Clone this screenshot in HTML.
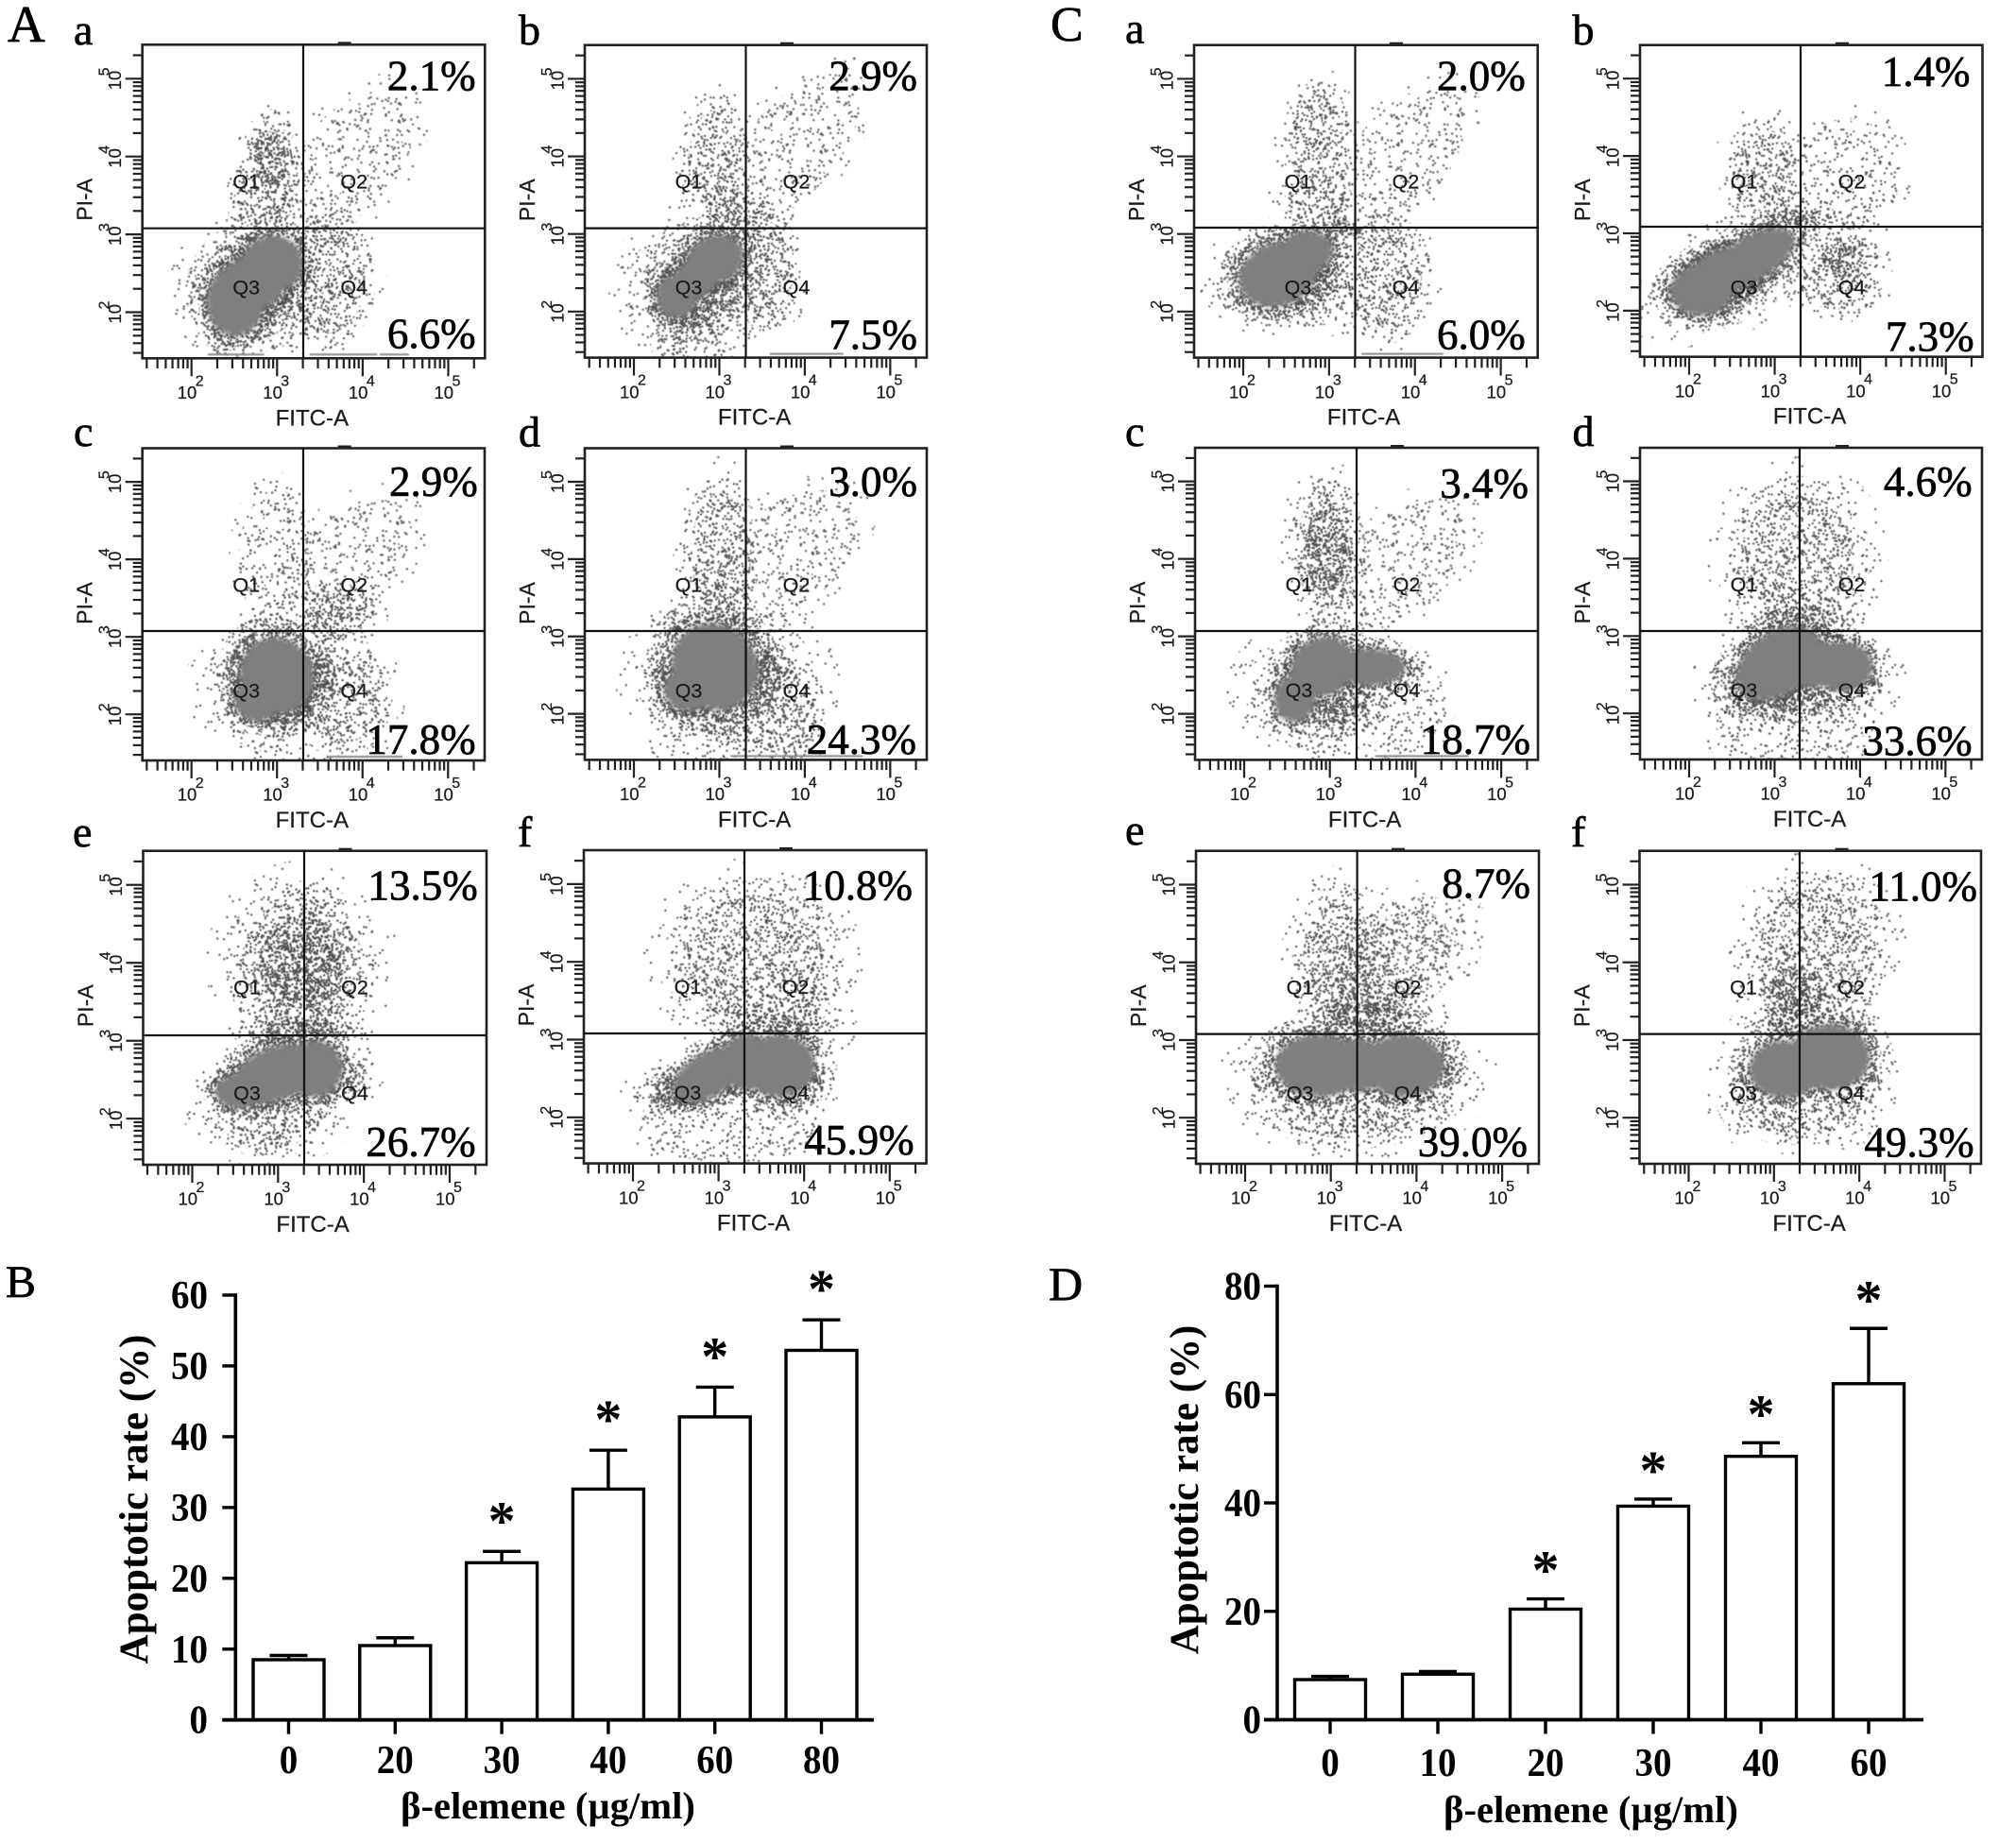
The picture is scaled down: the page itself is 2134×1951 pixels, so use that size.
<!DOCTYPE html>
<html lang="en">
<head>
<meta charset="utf-8">
<title>Flow cytometry apoptosis panels and bar charts</title>
<style>
html,body{margin:0;padding:0;background:#fff;}
#figure{position:absolute;left:0;top:0;display:block;}
.sans{font-family:"Liberation Sans",sans-serif;fill:#1c1c1c;stroke:#1c1c1c;stroke-width:.25px;}
.serif{font-family:"Liberation Serif",serif;fill:#000;}
.heavy{stroke:#000;stroke-width:.7px;}
.bold{font-weight:bold;}
.blur{filter:blur(0.45px);}
.soft{filter:blur(3px);}
</style>
</head>
<body>
<svg id="figure" xmlns="http://www.w3.org/2000/svg" width="2134" height="1951" viewBox="0 0 2134 1951">
  <rect width="2134" height="1951" fill="#fff"/>
  <defs id="defs"></defs>
  <g id="panels"></g>
  <g id="chartB"></g>
  <g id="chartD"></g>
  <g>
    <text class="serif heavy" x="8" y="44" font-size="55">A</text>
    <text class="serif heavy" x="1112" y="43" font-size="52">C</text>
    <text class="serif heavy" x="6" y="1373" font-size="48">B</text>
    <text class="serif heavy" x="1110" y="1376" font-size="50">D</text>
  </g>
</svg>
<script>
/* ---------- scatter-panel values: log10(FITC), log10(PI) ---------- */
const panelIds = ['A-a','A-b','A-c','A-d','A-e','A-f','C-a','C-b','C-c','C-d','C-e','C-f'];
const panelLetters = ['a','b','c','d','e','f','a','b','c','d','e','f'];
const q2Percent = ['2.1%','2.9%','2.9%','3.0%','13.5%','10.8%','2.0%','1.4%','3.4%','4.6%','8.7%','11.0%'];
const q4Percent = ['6.6%','7.5%','17.8%','24.3%','26.7%','45.9%','6.0%','7.3%','18.7%','33.6%','39.0%','49.3%'];
const xDecades = [2,3,4,5];
const yDecades = [2,3,4,5];
const quadrantNames = ['Q1','Q2','Q3','Q4'];

/* dense populations: [log FITC, log PI, spread FITC, spread PI, tilt] */
const cores_Aa = [[2.51,2.14,.33,.45,0],[2.95,2.62,.36,.36,0],[2.72,2.38,.36,.36,0]];
const cores_Ab = [[2.50,2.19,.24,.27,0],[2.95,2.67,.34,.30,20],[2.72,2.42,.26,.25,30]];
const cores_Ac = [[3.00,2.50,.42,.50,35],[2.77,2.19,.27,.28,0]];
const cores_Ad = [[2.95,2.61,.48,.58,45],[2.65,2.31,.30,.27,0]];
const cores_Ae = [[2.98,2.58,.52,.34,20],[3.43,2.64,.32,.36,0],[2.55,2.35,.28,.22,0]];
const cores_Af = [[2.89,2.55,.47,.28,30],[3.71,2.66,.42,.40,0],[3.34,2.71,.32,.36,0]];
const cores_Ca = [[2.41,2.48,.47,.40,20],[2.75,2.78,.30,.26,0]];
const cores_Cb = [[2.14,2.26,.36,.32,0],[2.74,2.68,.55,.28,30],[2.36,2.47,.42,.30,30]];
const cores_Cc = [[2.92,2.61,.38,.37,30],[2.59,2.19,.24,.30,0],[3.48,2.60,.40,.24,0]];
const cores_Cd = [[3.05,2.65,.55,.40,35],[3.80,2.60,.35,.32,0],[3.42,2.65,.32,.32,0]];
const cores_Ce = [[2.87,2.67,.52,.40,0],[3.85,2.67,.47,.40,0],[3.32,2.67,.32,.34,0]];
const cores_Cf = [[3.13,2.62,.42,.37,0],[3.65,2.78,.47,.42,0]];

/* scattered populations: [log FITC, log PI, spread FITC, spread PI, tilt, density level] */
const clouds_Aa = [[2.74,2.33,.82,.85,30,3],[2.92,3.96,.33,.65,0,3],[2.85,3.48,.45,.55,0,2],[3.85,3.95,.95,.62,50,1],[3.60,2.43,.55,.90,0,2]];
const clouds_Ab = [[2.75,2.30,.85,.90,40,3],[2.95,3.90,.40,.90,0,2],[3.85,4.10,1.05,.58,50,1],[3.55,2.54,.40,.80,0,2],[3.25,3.17,.45,.45,0,2],[2.50,1.64,.25,.30,0,1]];
const clouds_Ac = [[3.00,2.40,.85,.90,0,3],[3.53,2.50,.30,.40,0,3],[3.75,2.24,.60,.80,0,2],[3.00,4.00,.45,.90,0,1],[3.83,3.95,.90,.62,45,1],[3.68,3.30,.50,.40,0,2]];
const clouds_Ad = [[3.10,2.40,1.05,1.00,0,2],[3.55,2.49,.30,.55,0,3],[3.70,2.02,.55,.70,0,2],[3.02,4.08,.45,1.00,0,2],[3.80,4.05,.95,.65,40,1]];
const clouds_Ae = [[2.68,2.37,.55,.35,0,3],[3.73,2.53,.40,.40,0,3],[2.90,2.06,.80,.55,0,2],[3.28,4.00,.90,1.05,0,3],[3.35,4.16,.45,.90,0,3],[3.28,3.11,.80,.40,0,3]];
const clouds_Af = [[2.59,2.34,.60,.35,0,3],[3.86,2.39,.45,.35,0,3],[3.11,1.92,1.05,.50,0,1],[3.41,4.03,1.05,1.05,0,2],[3.75,3.50,.70,.60,0,2],[3.64,3.13,.80,.35,0,3]];
const clouds_Ca = [[2.60,2.43,.90,.65,0,3],[3.65,2.43,.55,.85,0,2],[3.13,3.06,.45,.20,0,3],[2.86,4.17,.40,.80,0,2],[2.83,3.43,.45,.35,0,2],[3.85,4.00,.95,.60,50,1]];
const clouds_Cb = [[2.44,2.42,1.00,.60,25,3],[3.79,2.68,.45,.35,0,3],[3.71,2.37,.55,.45,0,2],[2.89,3.79,.50,.70,0,2],[3.86,3.74,.60,.75,0,1],[3.26,3.21,.70,.20,0,2]];
const clouds_Cc = [[3.64,2.56,.40,.25,0,3],[2.96,2.29,.95,.80,0,3],[3.79,2.14,.55,.70,0,1],[2.96,4.10,.45,.95,0,3],[3.86,3.95,.90,.62,45,1]];
const clouds_Cd = [[2.82,2.31,.40,.30,0,3],[3.27,2.39,1.05,.70,0,3],[3.20,1.92,.90,.60,0,1],[3.27,4.02,.85,1.05,0,2],[3.27,3.30,.70,.40,0,2]];
const clouds_Ce = [[3.32,2.62,1.30,.55,0,3],[3.25,2.20,1.20,.60,0,2],[3.70,4.00,1.00,.70,35,2],[3.10,4.00,.55,1.00,0,2],[3.40,3.30,.80,.35,0,3]];
const clouds_Cf = [[3.35,2.62,.90,.60,0,3],[3.28,2.15,.95,.50,0,2],[3.50,4.15,.85,1.05,0,2],[3.28,3.62,.60,.60,0,3],[3.35,3.20,.70,.35,0,3]];

/* events piled on the lower axis: [from log FITC, to log FITC] */
const edge_Aa = [[2.19,2.85],[3.38,4.17],[4.20,4.54]];
const edge_Ab = [[3.59,4.45]];
const edge_Ac = [[3.60,4.47]];
const edge_Ad = [[3.13,4.68]];
const edge_Ae = [];
const edge_Af = [];
const edge_Ca = [[3.38,4.33]];
const edge_Cb = [];
const edge_Cc = [[3.53,4.62]];
const edge_Cd = [];
const edge_Ce = [];
const edge_Cf = [];

const allCores = [cores_Aa,cores_Ab,cores_Ac,cores_Ad,cores_Ae,cores_Af,cores_Ca,cores_Cb,cores_Cc,cores_Cd,cores_Ce,cores_Cf];
const allClouds = [clouds_Aa,clouds_Ab,clouds_Ac,clouds_Ad,clouds_Ae,clouds_Af,clouds_Ca,clouds_Cb,clouds_Cc,clouds_Cd,clouds_Ce,clouds_Cf];
const allEdges = [edge_Aa,edge_Ab,edge_Ac,edge_Ad,edge_Ae,edge_Af,edge_Ca,edge_Cb,edge_Cc,edge_Cd,edge_Ce,edge_Cf];

/* ---------- bar-chart values ---------- */
const categoriesB = ['0','20','30','40','60','80'];
const valuesB = [8.5,10.5,22.2,32.6,42.8,52.2];
const errorTopsB = [9.1,11.6,23.8,38.1,47.0,56.5];
const significantB = [false,false,true,true,true,true];
const yTickLabelsB = [0,10,20,30,40,50,60];

const categoriesD = ['0','10','20','30','40','60'];
const valuesD = [7.4,8.4,20.4,39.4,48.6,62.0];
const errorTopsD = [8.0,8.9,22.3,40.7,51.1,72.2];
const significantD = [false,false,true,true,true,true];
const yTickLabelsD = [0,20,40,60,80];

/* ---------- layout (page geometry, not data) ---------- */
const frames = [
 {L:150.7,R:513.3,T:47.3,B:379.3,v:321,h:241.7,q2:[503.6,95.4],q4:[503.6,368.6],let:[78,47]},
 {L:619,R:981,T:47.7,B:378.6,v:789.5,h:241.6,q2:[971,95.4],q4:[971,369.5],let:[549,47]},
 {L:150.7,R:513,T:474.5,B:805,v:321,h:668,q2:[505.7,525],q4:[503.6,798],let:[78,472]},
 {L:619,R:981,T:474.5,B:804.4,v:789.5,h:668,q2:[971,525],q4:[970,798],let:[549,472.7]},
 {L:151.5,R:515,T:900.7,B:1233,v:322,h:1096,q2:[505.7,952.7],q4:[503.6,1224],let:[77,896]},
 {L:618,R:980.6,T:900,B:1231.6,v:788,h:1094,q2:[966,952.7],q4:[967.6,1222],let:[548,896]},
 {L:1264,R:1627.7,T:47.7,B:378.6,v:1434.5,h:241,q2:[1614.7,95.4],q4:[1614.7,369.5],let:[1191,45.5]},
 {L:1736,R:2098.5,T:47.7,B:377.7,v:1906,h:240,q2:[2085.5,91],q4:[2089.6,371.7],let:[1664.5,47]},
 {L:1265,R:1628,T:474,B:804.4,v:1436,h:668,q2:[1618,527],q4:[1620,798],let:[1191,472]},
 {L:1736,R:2098,T:474,B:804,v:1905,h:668,q2:[2087.6,525],q4:[2087.6,799.6],let:[1664.5,472]},
 {L:1266,R:1629,T:900.7,B:1232,v:1436.6,h:1094.6,q2:[1620,950.6],q4:[1617,1224],let:[1191,894]},
 {L:1735.5,R:2097,T:900.7,B:1232,v:1905,h:1094.6,q2:[2093,953.6],q4:[2089.6,1224.7],let:[1663,896]}
];
const NS = 'http://www.w3.org/2000/svg';
function mk(parent, tag, attrs){
  const e = document.createElementNS(NS, tag);
  for (const k in attrs) e.setAttribute(k, attrs[k]);
  parent.appendChild(e);
  return e;
}
function frac(v){ return v - Math.floor(v); }

/* stipple textures: fixed speckle tiles, four densities */
const defs = document.getElementById('defs');
const tileCounts = [120,380,750,1700];
tileCounts.forEach(function(count, lvl){
  const pat = mk(defs,'pattern',{id:'stipple'+lvl,width:140,height:140,patternUnits:'userSpaceOnUse'});
  
  
  let d = '';
  for (let i=0;i<count;i++){
    const x = (frac(Math.sin((i+1)*12.9898+lvl*3.1)*43758.5453)*140).toFixed(1);
    const y = (frac(Math.sin((i+1)*78.233+lvl*7.7)*24634.6345)*140).toFixed(1);
    d += 'M'+x+' '+y+'h.01';
  }
  const speck = mk(pat,'path',{d:d,stroke:'#4d4d4d',fill:'none','stroke-width':2.3,'stroke-linecap':'round'});
  
  
});

/* ---------- scatter panels ---------- */
const panelsRoot = document.getElementById('panels');
panelIds.forEach(function(id, idx){
  const p = frames[idx];
  const sx = 90.6*(p.R-p.L)/362.6, sy = 82.4*(p.B-p.T)/332;
  const xOf = function(lg){ return p.L + 52 + (lg-2)*sx; };
  const yOf = function(lg){ return p.B - 48.8 - (lg-2)*sy; };

  const g = mk(panelsRoot,'g',{});
  
  

  const letter = mk(g,'text',{class:'serif heavy',x:p.let[0],y:p.let[1],'font-size':46});
  letter.textContent = panelLetters[idx];
  
  

  const clip = mk(defs,'clipPath',{id:'clip'+idx});
  
  
  mk(clip,'rect',{x:p.L,y:p.T,width:p.R-p.L,height:p.B-p.T});

  const cloudLayer = mk(g,'g',{'clip-path':'url(#clip'+idx+')',class:'blur'});
  
  

  allClouds[idx].forEach(function(c){
    const cx = xOf(c[0]), cy = yOf(c[1]);
    const fringe = mk(cloudLayer,'ellipse',{cx:cx,cy:cy,rx:c[2]*sx*1.25,ry:c[3]*sy*1.25,fill:'url(#stipple0)',transform:'rotate('+(-c[4])+' '+cx+' '+cy+')'});
    
    
    for (let k=1;k<=c[5];k++){
      const s = 1 - (k-1)*0.22;
      const el = mk(cloudLayer,'ellipse',{cx:cx,cy:cy,rx:c[2]*sx*s,ry:c[3]*sy*s,fill:'url(#stipple'+k+')',transform:'rotate('+(-c[4])+' '+cx+' '+cy+')'});
      
      
    }
  });
  allCores[idx].forEach(function(c){
    const cx = xOf(c[0]), cy = yOf(c[1]);
    const halo2 = mk(cloudLayer,'ellipse',{cx:cx,cy:cy,rx:c[2]*sx*1.6,ry:c[3]*sy*1.6,fill:'url(#stipple2)',transform:'rotate('+(-c[4])+' '+cx+' '+cy+')'});
    
    
    const halo = mk(cloudLayer,'ellipse',{cx:cx,cy:cy,rx:c[2]*sx*1.3,ry:c[3]*sy*1.3,fill:'url(#stipple3)',transform:'rotate('+(-c[4])+' '+cx+' '+cy+')'});
    
    
  });
  const coreLayer = mk(cloudLayer,'g',{class:'soft'});
  
  
  allCores[idx].forEach(function(c){
    const cx = xOf(c[0]), cy = yOf(c[1]);
    const core = mk(coreLayer,'ellipse',{cx:cx,cy:cy,rx:c[2]*sx,ry:c[3]*sy,fill:'#7f7f7f',transform:'rotate('+(-c[4])+' '+cx+' '+cy+')'});
    
    
  });
  allEdges[idx].forEach(function(r){
    const run = mk(cloudLayer,'line',{x1:xOf(r[0]),x2:xOf(r[1]),y1:p.B-4,y2:p.B-4,stroke:'#888','stroke-width':2});
    
    
  });

  /* frame */
  const frame = mk(g,'rect',{x:p.L,y:p.T,width:p.R-p.L,height:p.B-p.T,fill:'none',stroke:'#222','stroke-width':2.6});
  
  
  const topMark = mk(g,'rect',{x:p.L+207,y:p.T-3,width:14,height:3,fill:'#222'});
  
  

  /* quadrant gates */
  const vGate = mk(g,'line',{x1:p.v,x2:p.v,y1:p.T,y2:p.B,stroke:'#111','stroke-width':2.2});
  
  
  const hGate = mk(g,'line',{x1:p.L,x2:p.R,y1:p.h,y2:p.h,stroke:'#111','stroke-width':2.2});
  
  

  /* log ticks */
  const xAxis = mk(g,'g',{stroke:'#222','stroke-width':2.2});
  
  
  const yAxis = mk(g,'g',{stroke:'#222','stroke-width':2.2});
  
  
  [1,2,3,4,5].forEach(function(dec){
    [1,2,3,4,5,6,7,8,9].forEach(function(m){
      const lg = dec + Math.log10(m);
      if (lg < 1.47 || lg > 5.31) return;
      const major = m === 1;
      const tx = mk(xAxis,'line',{x1:xOf(lg),x2:xOf(lg),y1:p.B,y2:p.B+(major?19:10.7)});
      
      
      const ty = mk(yAxis,'line',{y1:yOf(lg),y2:yOf(lg),x1:p.L,x2:p.L-(major?18:10)});
      
      
    });
  });
  xDecades.forEach(function(d){
    const base = mk(g,'text',{class:'sans',x:xOf(d)-15,y:p.B+42.7,'font-size':18.5});
    base.textContent = '10';
    
    
    const sup = mk(g,'text',{class:'sans',x:xOf(d)+4,y:p.B+29,'font-size':16});
    sup.textContent = String(d);
    
    
  });
  yDecades.forEach(function(d){
    const yy = yOf(d);
    const bx = p.L-22.7, by = yy+12;
    const base = mk(g,'text',{class:'sans',x:bx,y:by,'font-size':18.5,transform:'rotate(-90 '+bx+' '+by+')'});
    base.textContent = '10';
    
    
    const ex = p.L-35, ey = yy-3;
    const sup = mk(g,'text',{class:'sans',x:ex,y:ey,'font-size':16,transform:'rotate(-90 '+ex+' '+ey+')'});
    sup.textContent = String(d);
    
    
  });

  /* axis titles */
  const xt = mk(g,'text',{class:'sans',x:p.L+179.6,y:p.B+71,'font-size':24,'text-anchor':'middle'});
  xt.textContent = 'FITC-A';
  
  
  const yx = p.L-53, yy = p.T+164;
  const yt = mk(g,'text',{class:'sans',x:yx,y:yy,'font-size':23,'text-anchor':'middle',transform:'rotate(-90 '+yx+' '+yy+')'});
  yt.textContent = 'PI-A';
  
  

  /* quadrant names */
  quadrantNames.forEach(function(q,i){
    const qx = p.L + (i%2===0 ? 110 : 224);
    const qy = p.T + (i<2 ? 152 : 264);
    const ql = mk(g,'text',{class:'sans',x:qx,y:qy,'font-size':21.5,'text-anchor':'middle'});
    ql.textContent = q;
    
    
  });

  /* percentages */
  const up = mk(g,'text',{class:'serif heavy',x:p.q2[0],y:p.q2[1],'font-size':45,'text-anchor':'end'});
  up.textContent = q2Percent[idx];
  
  
  const low = mk(g,'text',{class:'serif heavy',x:p.q4[0],y:p.q4[1],'font-size':45,'text-anchor':'end'});
  low.textContent = q4Percent[idx];
  
  
});

/* ---------- bar charts ---------- */
function barChart(rootId, cfg, categories, values, errorTops, significant, yTicks){
  const root = document.getElementById(rootId);
  const yOf = function(v){ return cfg.y0 - v*cfg.perUnit; };
  const xOf = function(i){ return cfg.x0 + i*cfg.step; };

  categories.forEach(function(cat,i){
    const top = yOf(values[i]), errY = yOf(errorTops[i]), cx = xOf(i);
    const whisker = mk(root,'line',{x1:cx,x2:cx,y1:top,y2:errY,stroke:'#000','stroke-width':3.4});
    
    
    const cap = mk(root,'line',{x1:cx-20,x2:cx+20,y1:errY,y2:errY,stroke:'#000','stroke-width':3.4});
    
    
    const bar = mk(root,'rect',{x:cx-37.5,y:top,width:75,height:cfg.y0-top,fill:'#fff',stroke:'#000','stroke-width':3.4});
    
    
    if (significant[i]){
      const star = mk(root,'text',{class:'serif bold',x:cx,y:errY-cfg.starGap,'font-size':58,'text-anchor':'middle'});
      star.textContent = '*';
      
      
    }
    const tick = mk(root,'line',{x1:cx,x2:cx,y1:cfg.y0,y2:cfg.y0+15,stroke:'#000','stroke-width':3.4});
    
    
    const lab = mk(root,'text',{class:'serif bold',x:cx,y:cfg.xLabelY,'font-size':42,'text-anchor':'middle',textLength:cat.length*19.5,lengthAdjust:'spacingAndGlyphs'});
    lab.textContent = cat;
    
    
  });

  const yAxis = mk(root,'line',{x1:cfg.axisX,x2:cfg.axisX,y1:yOf(yTicks[yTicks.length-1])-1.7,y2:cfg.y0+1.7,stroke:'#000','stroke-width':3.6});
  
  
  const xAxis = mk(root,'line',{x1:cfg.axisX-14,x2:cfg.axisEnd,y1:cfg.y0,y2:cfg.y0,stroke:'#000','stroke-width':3.8});
  
  

  yTicks.forEach(function(t){
    const ty = yOf(t);
    const tick = mk(root,'line',{x1:cfg.axisX-14,x2:cfg.axisX,y1:ty,y2:ty,stroke:'#000','stroke-width':3.4});
    
    
    const s = String(t);
    const lab = mk(root,'text',{class:'serif bold',x:cfg.labelRight,y:ty+14,'font-size':42,'text-anchor':'end',textLength:s.length*19.5,lengthAdjust:'spacingAndGlyphs'});
    lab.textContent = s;
    
    
  });

  const xTitle = mk(root,'text',{class:'serif bold',x:cfg.xTitleX,y:cfg.xTitleY,'font-size':40.6,'text-anchor':'middle'});
  xTitle.textContent = 'β-elemene (µg/ml)';
  
  
  const yTitle = mk(root,'text',{class:'serif bold',x:cfg.yTitleX,y:cfg.yTitleY,'font-size':43,'text-anchor':'middle',transform:'rotate(-90 '+cfg.yTitleX+' '+cfg.yTitleY+')'});
  yTitle.textContent = 'Apoptotic rate (%)';
  
  
}

barChart('chartB',{y0:1820.7,perUnit:7.495,x0:305.5,step:112.8,axisX:249.3,axisEnd:925,labelRight:220,xLabelY:1877,xTitleX:580,xTitleY:1925,yTitleX:156,yTitleY:1587,starGap:13},
  categoriesB,valuesB,errorTopsB,significantB,yTickLabelsB);
barChart('chartD',{y0:1820.5,perUnit:5.7375,x0:1408,step:114,axisX:1352,axisEnd:2036,labelRight:1335,xLabelY:1880,xTitleX:1684,xTitleY:1929,yTitleX:1268,yTitleY:1577,starGap:11},
  categoriesD,valuesD,errorTopsD,significantD,yTickLabelsD);
</script>
</body>
</html>
